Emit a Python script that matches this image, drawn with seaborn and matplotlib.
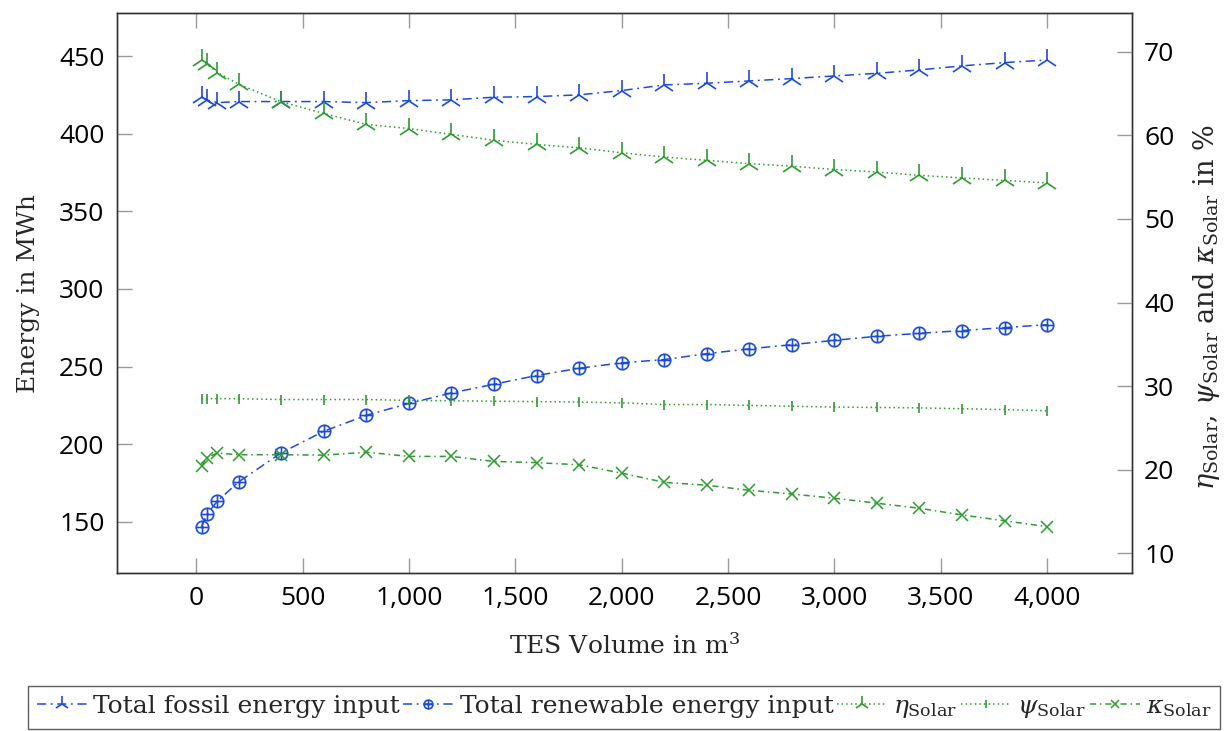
import numpy as np
import pandas as pd
import matplotlib
matplotlib.use("Agg")
import matplotlib.pyplot as plt
import seaborn as sns
from matplotlib.path import Path
from matplotlib.ticker import StrMethodFormatter, FixedLocator

# TES volume (m^3)
volume = [25, 50, 100, 200, 400, 600, 800, 1000, 1200, 1400, 1600, 1800, 2000,
          2200, 2400, 2600, 2800, 3000, 3200, 3400, 3600, 3800, 4000]

# Energy inputs (MWh)
fossil = [423.6, 421.9, 420.1, 420.8, 420.8, 420.8, 420.1, 421.4, 421.9, 423.6,
          424.0, 425.1, 427.9, 431.5, 432.6, 434.1, 435.6, 437.3, 439.0, 441.2,
          443.8, 445.9, 447.6]
renewable = [146.8, 154.7, 163.3, 175.7, 194.4, 208.3, 218.6, 226.2, 233.0, 238.6,
             244.2, 248.9, 252.4, 254.5, 258.3, 261.4, 264.1, 266.9, 269.5, 271.4,
             273.2, 275.1, 277.0]

# Solar indicators (%)
eta = [69.0, 68.5, 67.5, 66.1, 64.0, 62.6, 61.3, 60.8, 60.1, 59.4, 58.9, 58.5,
       57.9, 57.4, 57.0, 56.6, 56.3, 55.9, 55.6, 55.2, 54.9, 54.6, 54.3]
psi = [28.5, 28.5, 28.5, 28.5, 28.4, 28.4, 28.4, 28.3, 28.25, 28.2, 28.15, 28.1,
       28.0, 27.8, 27.8, 27.7, 27.6, 27.5, 27.45, 27.4, 27.3, 27.2, 27.05]
kappa = [20.4, 21.45, 22.0, 21.8, 21.8, 21.75, 22.1, 21.6, 21.6, 21.0, 20.85, 20.6,
         19.6, 18.5, 18.15, 17.55, 17.1, 16.6, 16.0, 15.4, 14.6, 13.9, 13.2]

x_ticks = [0, 500, 1000, 1500, 2000, 2500, 3000, 3500, 4000]
left_ticks = [150, 200, 250, 300, 350, 400, 450]
right_ticks = [10, 20, 30, 40, 50, 60, 70]

df = pd.DataFrame({"volume": volume, "fossil": fossil, "renewable": renewable,
                   "eta": eta, "psi": psi, "kappa": kappa})

sns.set_style("white")
plt.rcParams["font.family"] = ["DejaVu Serif"]
plt.rcParams["mathtext.fontset"] = "dejavuserif"

BLUE = "#1c4cd6"
GREEN = "#2e9c2e"

# circle with a cross inside (oplus mark)
oplus = Path.make_compound_path(
    Path.unit_circle(),
    Path([(-1, 0), (1, 0), (0, -1), (0, 1)],
         [Path.MOVETO, Path.LINETO, Path.MOVETO, Path.LINETO]))

fig = plt.figure(figsize=(12.31, 7.31), dpi=100)
ax = fig.add_axes([0.0950, 0.2157, 0.9193 - 0.0950, 0.9818 - 0.2157])
ax2 = ax.twinx()

common = dict(errorbar=None, sort=False, linewidth=1.1)
DASHDOT = (0, (6, 3, 1.2, 3))
DOTTED = (0, (1, 2))
sns.lineplot(data=df, x="volume", y="fossil", ax=ax, color=BLUE,
             linestyle=DASHDOT, marker="2", markersize=16,
             markeredgewidth=1.2, markeredgecolor=BLUE,
             label="Total fossil energy input", **common)
sns.lineplot(data=df, x="volume", y="renewable", ax=ax, color=BLUE,
             linestyle=DASHDOT, marker=oplus, markersize=9,
             markerfacecolor="none", markeredgecolor=BLUE, markeredgewidth=1.2,
             label="Total renewable energy input", **common)
sns.lineplot(data=df, x="volume", y="eta", ax=ax2, color=GREEN,
             linestyle=DOTTED, marker="2", markersize=16,
             markeredgewidth=1.2, markeredgecolor=GREEN,
             label=r"$\eta_{\mathrm{Solar}}$", **common)
sns.lineplot(data=df, x="volume", y="psi", ax=ax2, color=GREEN,
             linestyle=DOTTED, marker="|", markersize=7.5,
             markeredgewidth=1.2, markeredgecolor=GREEN,
             label=r"$\psi_{\mathrm{Solar}}$", **common)
sns.lineplot(data=df, x="volume", y="kappa", ax=ax2, color=GREEN,
             linestyle=(0, (4, 2.5, 1, 2.5)), marker="x", markersize=9,
             markeredgewidth=1.1, markeredgecolor=GREEN,
             label=r"$\kappa_{\mathrm{Solar}}$", **common)

# 10 % enlargement of the data range on every axis
ax.margins(x=0.1, y=0.1)
ax2.margins(x=0.1, y=0.1)

for a in (ax, ax2):
    a.set_facecolor("none")
    for s in a.spines.values():
        s.set_color("#333333")
        s.set_linewidth(1.0)
    legend = a.get_legend()
    if legend is not None:
        legend.remove()

ax.xaxis.set_major_locator(FixedLocator(x_ticks))
ax.xaxis.set_major_formatter(StrMethodFormatter("{x:,.0f}"))
ax.yaxis.set_major_locator(FixedLocator(left_ticks))
ax2.yaxis.set_major_locator(FixedLocator(right_ticks))

tick_kw = dict(direction="in", length=11, width=1.0, color="#999999",
               labelcolor="black", pad=9, labelsize=19,
               labelfontfamily="Open Sans")
ax.tick_params(axis="x", which="major", top=True, bottom=True, **tick_kw)
ax.tick_params(axis="y", which="major", left=True, right=False, **tick_kw)
ax2.tick_params(axis="y", which="major", right=True, left=False, **tick_kw)
ax2.tick_params(axis="x", top=False, bottom=False, labelbottom=False)

ax.set_xlabel(r"TES Volume in m$^3$", fontsize=18, labelpad=16)
ax.set_ylabel("Energy in MWh", fontsize=18, labelpad=14)
ax2.set_ylabel(r"$\eta_{\mathrm{Solar}}$, $\psi_{\mathrm{Solar}}$ and "
               r"$\kappa_{\mathrm{Solar}}$ in %", fontsize=19.5, labelpad=12)
ax2.yaxis.label.set_y(0.475)

handles = ax.get_lines()[:2] + ax2.get_lines()[:3]
labels = [h.get_label() for h in handles]
leg = fig.legend(handles, labels, ncol=5, loc="upper center",
                 bbox_to_anchor=(624 / 1231, 1 - 686 / 731), fontsize=18,
                 frameon=True, fancybox=False, edgecolor="#333333",
                 handlelength=2.0, handletextpad=0.25, columnspacing=0.15,
                 borderpad=0.35, borderaxespad=0.0, markerscale=0.7)
leg.get_frame().set_linewidth(1.0)

fig.savefig("out.png", dpi=100)
